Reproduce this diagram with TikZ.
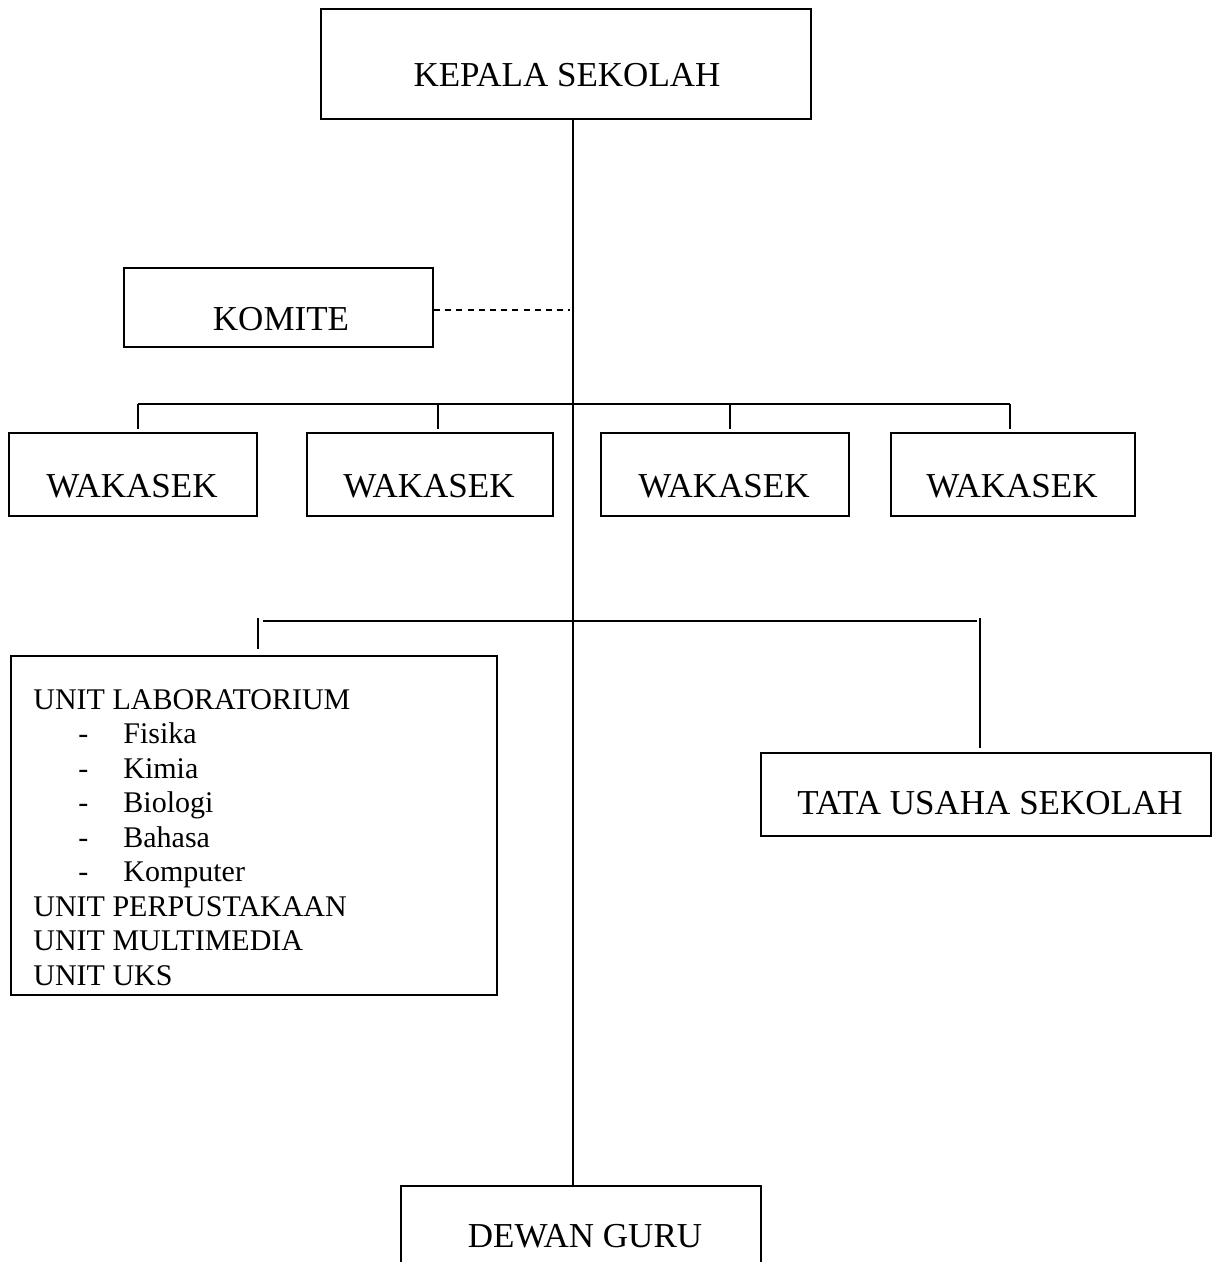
\documentclass[tikz,border=0pt]{standalone}
\usepackage{fontspec}
\setmainfont{Liberation Serif}
\tikzset{
  box/.style={draw, line width=1pt, inner sep=0pt, anchor=north west},
  lbl/.style={font=\fontsize{17.5}{21}\selectfont, inner sep=0pt, anchor=base},
  ulbl/.style={font=\fontsize{15}{17}\selectfont, inner sep=0pt, anchor=base west},
  conn/.style={line width=1pt},
  dashconn/.style={line width=1pt, dash pattern=on 3pt off 2.6pt}
}
\begin{document}
\begin{tikzpicture}[x=0.5pt, y=-0.5pt]
\useasboundingbox (0,0) rectangle (1212,1262);
\clip (0,0) rectangle (1212,1262);
\fill[white] (0,0) rectangle (1212,1262);

% boxes
\node[box, minimum width=245pt, minimum height=55pt] (kepala) at (320,8) {};
\node[box, minimum width=154.5pt, minimum height=39.5pt] (komite) at (123,267) {};
\node[box, minimum width=124pt, minimum height=41.5pt] (w1) at (8,432) {};
\node[box, minimum width=123pt, minimum height=41.5pt] (w2) at (306,432) {};
\node[box, minimum width=124pt, minimum height=41.5pt] (w3) at (600,432) {};
\node[box, minimum width=122pt, minimum height=41.5pt] (w4) at (890,432) {};
\node[box, minimum width=243pt, minimum height=169.5pt] (unit) at (10,655) {};
\node[box, minimum width=225pt, minimum height=41.5pt] (tata) at (760,752) {};
\node[box, minimum width=180pt, minimum height=60pt] (dewan) at (400,1185) {};

% labels
\node[lbl] (tkepala) at (567,87) {KEPALA SEKOLAH};
\node[lbl] (tkomite) at (281,331) {KOMITE};
\node[lbl] (tw1) at (132,497) {WAKASEK};
\node[lbl] (tw2) at (429,497) {WAKASEK};
\node[lbl] (tw3) at (724,497) {WAKASEK};
\node[lbl] (tw4) at (1012,497) {WAKASEK};
\node[lbl] (ttata) at (990,814) {TATA USAHA SEKOLAH};
\node[lbl] (tdewan) at (585,1247) {DEWAN GURU};

% unit box text
\node[ulbl] (u0) at (33,709) {UNIT LABORATORIUM};
\foreach \t [count=\i] in {Fisika,Kimia,Biologi,Bahasa,Komputer}{
  \node[ulbl] (ud\i) at (78,709+34.5*\i) {-};
  \node[ulbl] (ui\i) at (123,709+34.5*\i) {\t};
}
\node[ulbl] (u6) at (33,916) {UNIT PERPUSTAKAAN};
\node[ulbl] (u7) at (33,950.5) {UNIT MULTIMEDIA};
\node[ulbl] (u8) at (33,985) {UNIT UKS};

% coordinates
\coordinate (trunk) at (573,0);
\coordinate (dashend) at (570,310);
\coordinate (bw1) at (138,404);
\coordinate (bw2) at (438,404);
\coordinate (bw3) at (730,404);
\coordinate (bw4) at (1010,404);
\coordinate (hl) at (263,621);
\coordinate (hr) at (977,621);
\coordinate (bu1) at (258,618);
\coordinate (bu2) at (980,618);

% connectors
\draw[conn] (kepala.south -| trunk) -- (dewan.north -| trunk);
\draw[dashconn] (komite.east |- dashend) -- (dashend);
\draw[conn] (bw1) -- (bw4);
\foreach \i in {1,...,4}{
  \draw[conn, shorten >=1.5pt] (bw\i) -- (bw\i |- w\i.north);
}
\draw[conn] (hl) -- (hr);
\draw[conn, shorten >=3pt] (bu1) -- (bu1 |- unit.north);
\draw[conn, shorten >=2pt] (bu2) -- (bu2 |- tata.north);
\end{tikzpicture}
\end{document}
